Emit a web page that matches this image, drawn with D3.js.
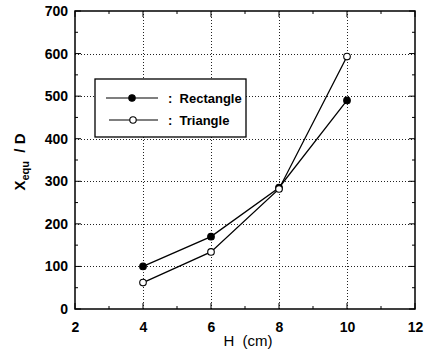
<!DOCTYPE html>
<html>
<head>
<meta charset="utf-8">
<script src="https://cdn.jsdelivr.net/npm/d3@7"></script>
<style>
  body { margin: 0; background: #fff; }
  text { font-family: "Liberation Sans", Arial, sans-serif; white-space: pre; }
</style>
</head>
<body>
<svg id="chart"></svg>
<script>
// data
var H_VALUES = [4, 6, 8, 10]
var RECTANGLE = [100, 170, 285, 490]
var TRIANGLE = [62, 134, 282, 593]
var X_TICKS = [2, 4, 6, 8, 10, 12]
var Y_TICKS = [0, 100, 200, 300, 400, 500, 600, 700]
var X_MINOR = [3, 5, 7, 9, 11]
var Y_MINOR = [50, 150, 250, 350, 450, 550, 650]

var svgWidth = 424, svgHeight = 352
var margin = { top: 11, right: 9, bottom: 43, left: 75 }
var width = svgWidth - margin.left - margin.right
var height = svgHeight - margin.top - margin.bottom

var svg = d3.select('#chart')
    .attr('width', svgWidth)
    .attr('height', svgHeight)

var g = svg.append('g')
    .attr('transform', 'translate(' + margin.left + ',' + margin.top + ')')

var x = d3.scaleLinear().domain([2, 12]).range([0, width])
var y = d3.scaleLinear().domain([0, 700]).range([height, 0])

// dotted grid
g.selectAll('.gx').data(X_TICKS.slice(1, -1)).enter().append('line')
    .attr('x1', function(d) { return Math.round(x(d)) + 0.5 })
    .attr('x2', function(d) { return Math.round(x(d)) + 0.5 })
    .attr('y1', 0).attr('y2', height)
    .attr('stroke', '#222').attr('stroke-width', 1).attr('stroke-dasharray', '1,2')
    .attr('shape-rendering', 'crispEdges')
g.selectAll('.gy').data(Y_TICKS.slice(1, -1)).enter().append('line')
    .attr('y1', function(d) { return Math.round(y(d)) + 0.5 })
    .attr('y2', function(d) { return Math.round(y(d)) + 0.5 })
    .attr('x1', 0).attr('x2', width)
    .attr('stroke', '#222').attr('stroke-width', 1).attr('stroke-dasharray', '1,2')
    .attr('shape-rendering', 'crispEdges')

// inward ticks on all four sides
function tickMarks(vals, len) {
    vals.forEach(function(v) {
        g.append('line').attr('x1', x(v)).attr('x2', x(v)).attr('y1', height).attr('y2', height - len)
            .attr('stroke', '#000').attr('stroke-width', 1)
        g.append('line').attr('x1', x(v)).attr('x2', x(v)).attr('y1', 0).attr('y2', len)
            .attr('stroke', '#000').attr('stroke-width', 1)
    })
}
function yTickMarks(vals, len) {
    vals.forEach(function(v) {
        g.append('line').attr('y1', y(v)).attr('y2', y(v)).attr('x1', 0).attr('x2', len)
            .attr('stroke', '#000').attr('stroke-width', 1)
        g.append('line').attr('y1', y(v)).attr('y2', y(v)).attr('x1', width).attr('x2', width - len)
            .attr('stroke', '#000').attr('stroke-width', 1)
    })
}
tickMarks(X_TICKS, 6)
tickMarks(X_MINOR, 3)
yTickMarks(Y_TICKS, 6)
yTickMarks(Y_MINOR, 3)

// tick labels
g.append('g')
    .attr('transform', 'translate(0,' + height + ')')
    .call(d3.axisBottom(x).tickValues(X_TICKS).tickSize(0).tickPadding(13))
    .call(function(a) { a.select('.domain').remove() })
    .selectAll('text')
    .attr('fill', '#000').attr('font-size', '14px').attr('font-weight', 'bold')
    .attr('font-family', '"Liberation Sans", Arial, sans-serif')
g.append('g')
    .call(d3.axisLeft(y).tickValues(Y_TICKS).tickSize(0).tickPadding(7))
    .call(function(a) { a.select('.domain').remove() })
    .selectAll('text')
    .attr('fill', '#000').attr('font-size', '14px').attr('font-weight', 'bold')
    .attr('font-family', '"Liberation Sans", Arial, sans-serif')

// frame
g.append('rect')
    .attr('width', width).attr('height', height)
    .attr('fill', 'none').attr('stroke', '#000').attr('stroke-width', 1.5)

// axis titles
g.append('text')
    .attr('x', width / 2 + 3).attr('y', height + 37)
    .attr('text-anchor', 'middle').attr('font-size', '15px')
    .text('H  (cm)')

var yl = g.append('text')
    .attr('transform', 'rotate(-90)')
    .attr('x', -height / 2 - 2).attr('y', -50)
    .attr('text-anchor', 'middle').attr('font-size', '15px')
    .attr('font-weight', 'bold')
yl.append('tspan').text('X')
yl.append('tspan').attr('font-size', '11px').attr('dy', 4).text('equ')
yl.append('tspan').attr('dy', -4).text('  / D')

// lines and markers
var line = d3.line()
    .x(function(d, i) { return x(H_VALUES[i]) })
    .y(function(d) { return y(d) })

var series = [
    { name: ':  Rectangle', values: RECTANGLE, fill: '#000' },
    { name: ':  Triangle', values: TRIANGLE, fill: '#fff' }
]

series.forEach(function(s) {
    g.append('path')
        .datum(s.values)
        .attr('fill', 'none')
        .attr('stroke', '#000')
        .attr('stroke-width', 1.3)
        .attr('d', line)
})
series.forEach(function(s) {
    g.selectAll(null).data(s.values).enter().append('circle')
        .attr('cx', function(d, i) { return x(H_VALUES[i]) })
        .attr('cy', function(d) { return y(d) })
        .attr('r', 3.3)
        .attr('fill', s.fill)
        .attr('stroke', '#000')
        .attr('stroke-width', 1.1)
})

// legend
var lg = svg.append('g').attr('transform', 'translate(95,79)')
lg.append('rect')
    .attr('width', 151).attr('height', 58)
    .attr('fill', '#fff').attr('stroke', '#000').attr('stroke-width', 1.3)
series.forEach(function(s, i) {
    var ly = 19 + i * 22
    lg.append('line')
        .attr('x1', 11 + i * 3).attr('x2', 63).attr('y1', ly).attr('y2', ly)
        .attr('stroke', '#000').attr('stroke-width', 1.2)
    lg.append('circle')
        .attr('cx', 37 + i).attr('cy', ly).attr('r', 3.2)
        .attr('fill', s.fill).attr('stroke', '#000').attr('stroke-width', 1.1)
    lg.append('text')
        .attr('x', 73).attr('y', ly + 5)
        .attr('font-size', '13px').attr('font-weight', 'bold')
        .text(s.name)
})
</script>
</body>
</html>
